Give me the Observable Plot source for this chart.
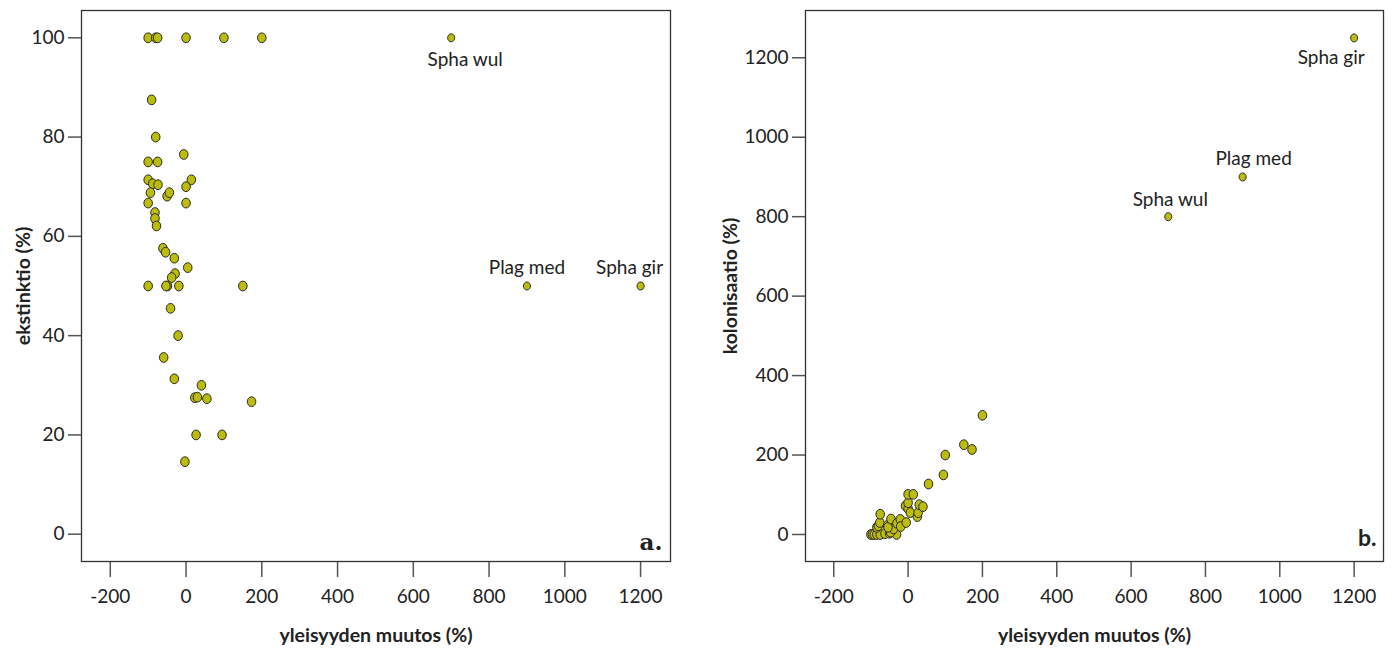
<!DOCTYPE html>
<html>
<head>
<meta charset="utf-8">
<script src="https://cdn.jsdelivr.net/npm/d3@7"></script>
<script src="https://cdn.jsdelivr.net/npm/@observablehq/plot@0.6"></script>
<style>
  html, body { margin: 0; padding: 0; background: #fff; }
  #charts { display: flex; width: 1394px; height: 648px; }
</style>
</head>
<body>
<div id="charts"></div>
<script>
// Change in species frequency (%) vs extinction (%) — panel a.
const extChange = [
  -100, -80, -75, 0, 100, 200,
  -91, -80, -6, -100, -75, -100, -88, -74, 14, 0, -94, -50, -44, -100, 0,
  -82, -82, -78, -61, -54, -31, 4.5, -29, -38, -100, -49, -53, -19, 150,
  -41, -21, -59, -31, 40.6, 23, 30, 55, 173, 26.5, 95, -3
];
const extinction = [
  100, 100, 100, 100, 100, 100,
  87.5, 80, 76.5, 75, 75, 71.4, 70.6, 70.4, 71.4, 70, 68.8, 68.1, 68.8, 66.7, 66.7,
  64.8, 63.6, 62.1, 57.6, 56.8, 55.6, 53.7, 52.5, 51.7, 50, 50, 50, 50, 50,
  45.5, 40, 35.6, 31.3, 30, 27.5, 27.6, 27.3, 26.7, 20, 20, 14.6
];

// Change in species frequency (%) vs colonisation (%) — panel b.
const colChange = [
  -100, -96, -91, -84, -75, -62, -50, -31, -47, -39, -84, -80, -76, -75, -55,
  -54, -46, -30, -21, -20, -5, -7, 0, 0, 0, 14, 6, 25, 27, 30, 40,
  55, 95, 100, 150, 172, 200
];
const colonisation = [
  0, 0, 0, 0, 0, 2, 3, 0, 6, 14, 18, 22, 30, 51, 23,
  18, 39, 28, 38, 20, 30, 72, 65, 80, 101, 101, 55, 45, 55, 75, 70,
  127, 150, 200, 226, 214, 300
];

// Named outlier species, shown in both panels.
const speciesNames = ["Spha wul", "Plag med", "Spha gir"];
const speciesChange = [700, 900, 1200];
const speciesExt = [100, 50, 50];
const speciesCol = [800, 900, 1250];

const xTicks = [-200, 0, 200, 400, 600, 800, 1000, 1200];
const extTicks = [0, 20, 40, 60, 80, 100];
const colTicks = [0, 200, 400, 600, 800, 1000, 1200];

const xTitle = "yleisyyden muutos (%)";
const FILL = "#bcbc0c";
const FONT = "Lato, 'Open Sans', sans-serif";
const TICK_SIZE = 19;
const TITLE_SIZE = 19.5;

// Slightly upright ellipse used as the dot symbol.
const ellipse = {
  draw(context, size) {
    const r = Math.sqrt(size / Math.PI);
    const rx = r * 0.93, ry = r * 1.06, k = 0.5523;
    context.moveTo(rx, 0);
    context.bezierCurveTo(rx, k * ry, k * rx, ry, 0, ry);
    context.bezierCurveTo(-k * rx, ry, -rx, k * ry, -rx, 0);
    context.bezierCurveTo(-rx, -k * ry, -k * rx, -ry, 0, -ry);
    context.bezierCurveTo(k * rx, -ry, rx, -k * ry, rx, 0);
    context.closePath();
  }
};

function panel({xs, ys, ny, yDomain, yTicks, marginLeft, marginRight, yTitle, yTitleDx, tag, tagDx, tagDy, tagFont, placements}) {
  const idx = d3.range(speciesNames.length);
  return Plot.plot({
    width: 697,
    height: 648,
    marginTop: 10,
    marginBottom: 87,
    marginLeft,
    marginRight,
    style: {fontFamily: FONT, fontSize: TICK_SIZE + "px", color: "#222", background: "#fff"},
    x: {domain: [-276, 1279]},
    y: {domain: yDomain},
    marks: [
      Plot.axisX({ticks: xTicks, tickSize: 16, tickPadding: 12, tickFormat: d => String(d),
        label: null, stroke: "#555", strokeWidth: 1.5, fill: "#222", fontSize: TICK_SIZE}),
      Plot.axisY({ticks: yTicks, tickSize: 13, tickPadding: 4, tickFormat: d => String(d),
        label: null, stroke: "#555", strokeWidth: 1.5, fill: "#222", fontSize: TICK_SIZE}),
      Plot.frame({stroke: "#333", strokeWidth: 1.3}),
      Plot.dot(d3.range(xs.length), {
        x: i => xs[i], y: i => ys[i], r: 4.6, symbol: ellipse,
        fill: FILL, stroke: "#2a2a2a", strokeWidth: 1
      }),
      Plot.dot(idx, {
        x: i => speciesChange[i], y: i => ny[i], r: 3.8, symbol: ellipse,
        fill: FILL, stroke: "#2a2a2a", strokeWidth: 1
      }),
      ...placements.map((p, i) => Plot.text([i], {
        x: j => speciesChange[j], y: j => ny[j], text: j => speciesNames[j],
        textAnchor: "middle",
        lineAnchor: p.below ? "top" : "bottom",
        dy: p.below ? p.dy : -p.dy, dx: p.dx,
        fontSize: TICK_SIZE, fill: "#222"
      })),
      Plot.text([tag], {
        frameAnchor: "bottom-right", text: d => d, textAnchor: "end", lineAnchor: "bottom",
        dx: tagDx, dy: tagDy, fontSize: 23, fontWeight: "bold", fontFamily: tagFont, fill: "#222"
      }),
      Plot.text([xTitle], {
        frameAnchor: "bottom", text: d => d, textAnchor: "middle", lineAnchor: "bottom",
        dy: 80, fontSize: TITLE_SIZE, fontWeight: "bold", fill: "#222"
      }),
      Plot.text([yTitle], {
        frameAnchor: "left", text: d => d, textAnchor: "middle", lineAnchor: "middle",
        rotate: -90, dx: yTitleDx, fontSize: TITLE_SIZE, fontWeight: "bold", fill: "#222"
      })
    ]
  });
}

const host = document.getElementById("charts");

host.append(panel({
  xs: extChange, ys: extinction, ny: speciesExt,
  yDomain: [-5.5, 105.5], yTicks: extTicks,
  marginLeft: 81, marginRight: 27,
  yTitle: "ekstinktio (%)", yTitleDx: -58,
  tag: "a.", tagDx: -8, tagDy: -12, tagFont: "'DejaVu Serif', serif",
  placements: [
    {below: true, dy: 15, dx: 14},
    {below: false, dy: 12, dx: 0},
    {below: false, dy: 12, dx: -11}
  ]
}));

host.append(panel({
  xs: colChange, ys: colonisation, ny: speciesCol,
  yDomain: [-68, 1319], yTicks: colTicks,
  marginLeft: 108, marginRight: 11,
  yTitle: "kolonisaatio (%)", yTitleDx: -75,
  tag: "b.", tagDx: -7, tagDy: -16, tagFont: FONT,
  placements: [
    {below: false, dy: 11, dx: 2},
    {below: false, dy: 12, dx: 11},
    {below: true, dy: 13, dx: -23}
  ]
}));
</script>
</body>
</html>
